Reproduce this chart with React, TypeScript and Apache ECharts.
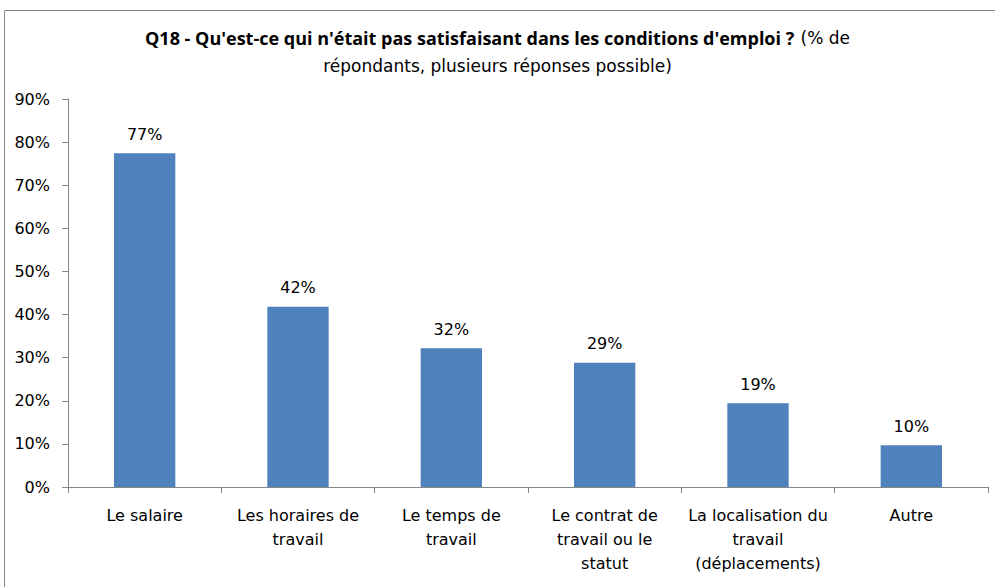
import React, { useEffect, useRef } from "react";
import * as echarts from "echarts";

const categories = [
  "Le salaire",
  "Les horaires de\ntravail",
  "Le temps de\ntravail",
  "Le contrat de\ntravail ou le\nstatut",
  "La localisation du\ntravail\n(déplacements)",
  "Autre",
];
const values = [77.4, 41.8, 32.2, 28.8, 19.4, 9.7];
const yTicks = [0, 10, 20, 30, 40, 50, 60, 70, 80, 90];

const FONT = "'DejaVu Sans', sans-serif";
const TFONT = "'Open Sans', sans-serif";

export default function App() {
  const ref = useRef<HTMLDivElement>(null);
  useEffect(() => {
    if (!ref.current) return;
    const chart = echarts.init(ref.current, undefined, { renderer: "svg" });
    chart.setOption({
      animation: false,
      backgroundColor: "#ffffff",
      textStyle: { fontFamily: FONT },
      title: {
        left: "center",
        top: 19,
        text: "{b|Q18 - Qu'est-ce qui n'était pas satisfaisant dans les conditions d'emploi ?} {n|(% de}\n{n|répondants, plusieurs réponses possible)}",
        textStyle: {
          rich: {
            b: { fontFamily: TFONT, fontWeight: "bold", fontSize: 18, color: "#000", lineHeight: 28 },
            n: { fontFamily: FONT, fontWeight: "normal", fontSize: 17, color: "#000", lineHeight: 28 },
          },
        },
      },
      graphic: [
        {
          type: "rect",
          shape: { x: 4.5, y: 10.5, width: 1000, height: 600 },
          style: { fill: "none", stroke: "#8a8a8a", lineWidth: 1 },
          silent: true,
        },
      ],
      grid: { left: 68, right: 7, top: 99, bottom: 100, containLabel: false },
      xAxis: {
        type: "category",
        data: categories,
        axisLine: { lineStyle: { color: "#868686" } },
        axisTick: { show: true, alignWithLabel: false, length: 6, lineStyle: { color: "#868686" } },
        axisLabel: { color: "#000", fontSize: 16, fontFamily: FONT, lineHeight: 24, margin: 16, interval: 0 },
      },
      yAxis: {
        type: "value",
        min: 0,
        max: 90,
        interval: 10,
        splitLine: { show: false },
        axisLine: { show: true, lineStyle: { color: "#868686" } },
        axisTick: { show: true, length: 6, lineStyle: { color: "#868686" } },
        axisLabel: {
          color: "#000",
          fontSize: 16,
          fontFamily: FONT,
          margin: 18,
          formatter: (v: number) => (yTicks.includes(v) ? v + "%" : ""),
        },
      },
      series: [
        {
          type: "bar",
          data: values,
          barWidth: "40%",
          itemStyle: { color: "#4f81bd" },
          label: {
            show: true,
            position: "top",
            distance: 11,
            color: "#000",
            fontSize: 16,
            fontFamily: FONT,
            formatter: (p: any) => Math.round(p.value) + "%",
          },
        },
      ],
    });
    return () => chart.dispose();
  }, []);
  return (
    <div
      ref={ref}
      style={{ position: "absolute", left: 0, top: 0, width: 995, height: 587 }}
    />
  );
}
